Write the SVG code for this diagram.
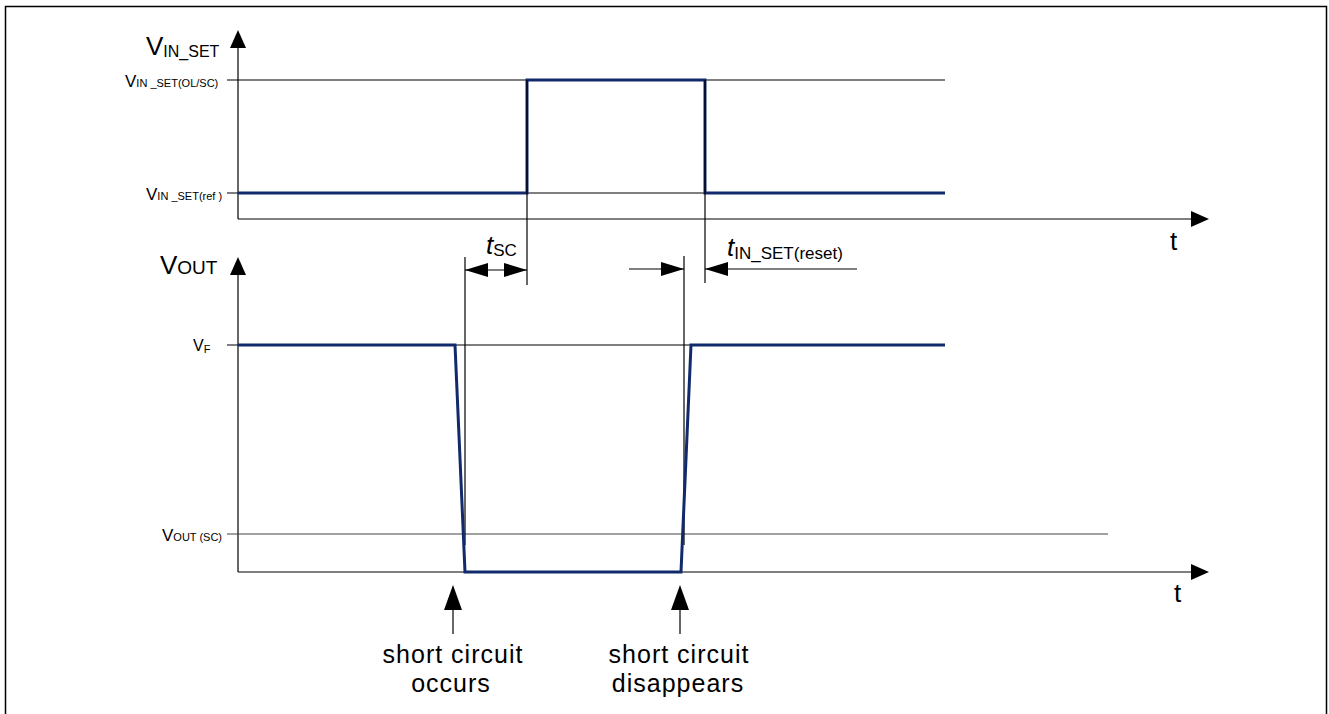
<svg xmlns="http://www.w3.org/2000/svg" width="1329" height="714" viewBox="0 0 1329 714">
<style>
.thin{stroke:#000;stroke-width:1.2;fill:none}
.gray{stroke:#444;stroke-width:1.2;fill:none}
.sig{stroke:#112a6b;stroke-width:3;fill:none;stroke-linejoin:miter}
.ah{fill:#000;stroke:none}
text{font-family:"Liberation Sans",Arial,sans-serif;fill:#000}
.big{font-size:26px}
.lbl{font-size:25px;letter-spacing:1px}
.sub{font-size:16px}
.sm{font-size:17px}
.xs{font-size:11px}
</style>
<rect x="0" y="0" width="1329" height="714" fill="#fff"/>
<path d="M5.5,714 V6.5 H1326.5 V714" stroke="#000" stroke-width="1.5" fill="none"/>
<g id="connectors">
<line class="thin" x1="238" y1="44" x2="238" y2="219"/>
<polygon class="ah" points="238,30 230,48 246,48"/>
<line class="thin" x1="238" y1="219" x2="1195" y2="219"/>
<polygon class="ah" points="1209,219 1191,211 1191,227"/>
<line class="thin" x1="227" y1="80" x2="945" y2="80"/>
<line class="thin" x1="227" y1="193" x2="945" y2="193"/>
<polyline class="sig" points="238,193 527,193 527,80 705,80 705,193 945,193"/>
<line class="thin" x1="527" y1="80" x2="527" y2="285"/>
<line class="thin" x1="705" y1="80" x2="705" y2="283"/>
<line class="thin" x1="238" y1="272" x2="238" y2="572"/>
<polygon class="ah" points="238,257 230,275 246,275"/>
<line class="thin" x1="238" y1="572" x2="1195" y2="572"/>
<polygon class="ah" points="1209,572 1191,564 1191,580"/>
<line class="thin" x1="227" y1="345" x2="945" y2="345"/>
<line class="gray" x1="227" y1="534" x2="1108" y2="534"/>
<line class="thin" x1="465" y1="257" x2="465" y2="545"/>
<line class="thin" x1="684" y1="256" x2="684" y2="545"/>
<polyline class="sig" points="238,345 455,345 465,572 681,572 691,345 945,345"/>
<line class="thin" x1="465" y1="270" x2="527" y2="270"/>
<polygon class="ah" points="465,270 488,263 488,277"/>
<polygon class="ah" points="527,270 504,263 504,277"/>
<line class="thin" x1="629" y1="269" x2="684" y2="269"/>
<polygon class="ah" points="684,269 661,262 661,276"/>
<line class="thin" x1="705" y1="269" x2="857" y2="269"/>
<polygon class="ah" points="705,269 728,262 728,276"/>
<line class="thin" x1="453" y1="600" x2="453" y2="634"/>
<polygon class="ah" points="453,585 444,610 462,610"/>
<line class="thin" x1="680" y1="600" x2="680" y2="634"/>
<polygon class="ah" points="680,585 671,610 689,610"/>
</g>
<g id="label-vinset"><text x="146" y="55" class="big">V<tspan class="sub" dy="2">IN_SET</tspan></text></g>
<g id="label-vinset-olsc"><text x="125" y="87" class="sm">V<tspan class="xs">IN _SET(OL/SC)</tspan></text></g>
<g id="label-vinset-ref"><text x="146" y="200" class="sm">V<tspan class="xs">IN _SET(ref )</tspan></text></g>
<g id="label-t1"><text x="1170" y="250" class="big">t</text></g>
<g id="label-vout"><text x="160" y="274" class="big">V<tspan font-size="19px">OUT</tspan></text></g>
<g id="label-vf"><text x="193" y="351" font-size="16px">V<tspan class="xs" dy="2">F</tspan></text></g>
<g id="label-voutsc"><text x="162" y="541" class="sm">V<tspan class="xs">OUT (SC)</tspan></text></g>
<g id="label-t2"><text x="1174" y="602" class="big">t</text></g>
<g id="label-tsc"><text x="486" y="254" class="big" font-style="italic">t<tspan font-size="17px" font-style="normal" dy="2">SC</tspan></text></g>
<g id="label-treset"><text x="727" y="256" class="big" font-style="italic">t<tspan font-size="17px" font-style="normal" dy="3">IN_SET(reset)</tspan></text></g>
<g id="label-occurs"><text x="453" y="663" class="lbl" text-anchor="middle">short circuit</text><text x="451" y="692" class="lbl" text-anchor="middle">occurs</text></g>
<g id="label-disappears"><text x="679" y="663" class="lbl" text-anchor="middle">short circuit</text><text x="678" y="692" class="lbl" text-anchor="middle">disappears</text></g>
</svg>
